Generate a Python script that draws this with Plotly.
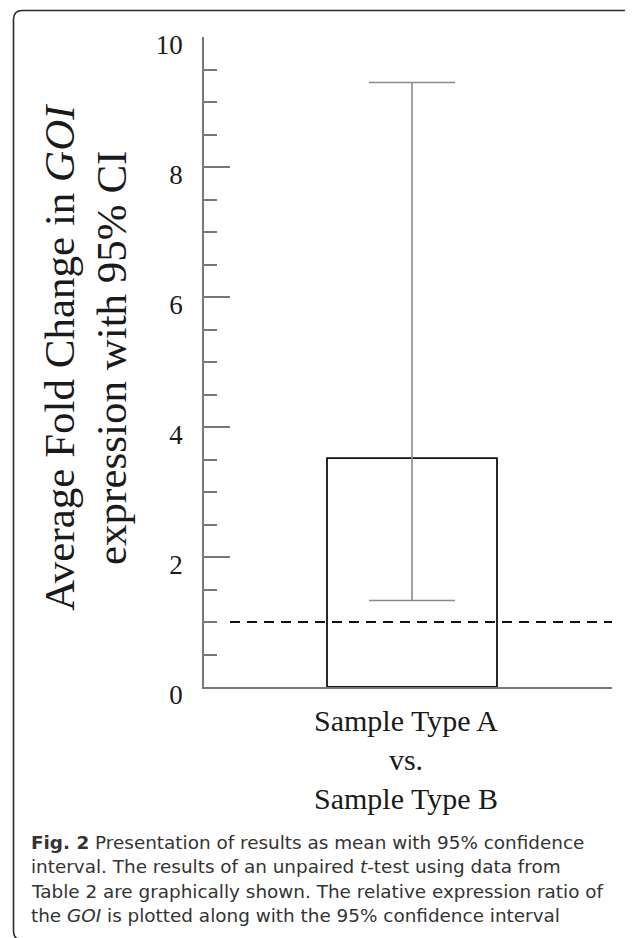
import plotly.graph_objects as go

# ---------------- data ----------------
CATEGORIES = ["Sample Type A<br>vs.<br>Sample Type B"]
MEAN_FOLD = [3.52]
CI_UPPER = [9.30]
CI_LOWER = [1.33]
REF_LINE = 1.0
Y_TICKS = [0, 2, 4, 6, 8, 10]
Y_TICK_LABELS = ["0", "2", "4", "6", "8", "10"]
Y_TITLE_LINES = ["Average Fold Change in <i>GOI</i>", "expression with 95% CI"]
CAPTION_LINES = [
    "<b>Fig. 2</b> Presentation of results as mean with 95% confidence",
    "interval. The results of an unpaired <i>t</i>-test using data from",
    "Table 2 are graphically shown. The relative expression ratio of",
    "the <i>GOI</i> is plotted along with the 95% confidence interval",
]

# ---------------- layout geometry ----------------
# the page body has an 8px margin, so the figure is shifted by OFF px
OFF = 8
W, H = 633 - OFF, 938 - OFF
L, T = 204 - OFF, 37 - OFF
PW, PH = 408, 650
R, B = W - L - PW, H - T - PH


def px2x(px):
    """screen pixel x -> paper x"""
    return (px - OFF - L) / PW


def py2y(py):
    """screen pixel y -> paper y"""
    return (T + PH - (py - OFF)) / PH


SERIF = "Liberation Serif, Times New Roman, serif"
SANS = "DejaVu Sans, Open Sans, sans-serif"
AXIS_GREY = "#777777"

err_plus = [u - m for u, m in zip(CI_UPPER, MEAN_FOLD)]
err_minus = [m - l for m, l in zip(MEAN_FOLD, CI_LOWER)]

fig = go.Figure()
fig.add_trace(go.Bar(
    x=CATEGORIES,
    y=MEAN_FOLD,
    width=1.0,
    marker=dict(color="rgba(255,255,255,0)", line=dict(color="#111111", width=1.8)),
    error_y=dict(type="data", symmetric=False, array=err_plus, arrayminus=err_minus,
                 color="#8a8a8a", thickness=1.6, width=43),
    showlegend=False,
))

fig.add_shape(type="line", xref="paper", x0=px2x(230), x1=1.0, yref="y",
              y0=REF_LINE, y1=REF_LINE,
              line=dict(color="#111111", width=2.2, dash="10px,7px"))

# rounded frame
fl, ft, fr, fb, rr = 13.5, 10.5, 634, 940, 9
path = (
    f"M {px2x(fl)},{py2y(fb - rr)} "
    f"L {px2x(fl)},{py2y(ft + rr)} "
    f"Q {px2x(fl)},{py2y(ft)} {px2x(fl + rr)},{py2y(ft)} "
    f"L {px2x(fr - rr)},{py2y(ft)} "
    f"Q {px2x(fr)},{py2y(ft)} {px2x(fr)},{py2y(ft + rr)} "
    f"L {px2x(fr)},{py2y(fb - rr)} "
    f"Q {px2x(fr)},{py2y(fb)} {px2x(fr - rr)},{py2y(fb)} "
    f"L {px2x(fl + rr)},{py2y(fb)} "
    f"Q {px2x(fl)},{py2y(fb)} {px2x(fl)},{py2y(fb - rr)} Z"
)
fig.add_shape(type="path", xref="paper", yref="paper", path=path,
              line=dict(color="#2a2a2a", width=1.6), fillcolor="rgba(0,0,0,0)")

# y title (two lines)
for txt, cx in zip(Y_TITLE_LINES, [59, 111]):
    fig.add_annotation(text=txt, xref="paper", yref="paper", x=px2x(cx), y=py2y(358),
                       xanchor="center", yanchor="middle", textangle=-90, showarrow=False,
                       font=dict(family=SERIF, size=43, color="#1a1a1a"))

# caption
for txt, by in zip(CAPTION_LINES, [842, 866, 891, 915]):
    fig.add_annotation(text=txt, xref="paper", yref="paper", x=px2x(29), y=py2y(by),
                       xanchor="left", yanchor="middle", showarrow=False, align="left",
                       font=dict(family=SANS, size=18.4, color="#333333"))

fig.update_layout(
    width=W, height=H,
    margin=dict(l=L, r=R, t=T, b=B),
    paper_bgcolor="white", plot_bgcolor="white",
    xaxis=dict(type="category", range=[-1.2235, 1.1765], showline=True, linecolor=AXIS_GREY,
               linewidth=1.5, ticks="", showgrid=False, zeroline=False,
               tickfont=dict(family=SERIF, size=30, color="#1a1a1a"),
               ticklabelstandoff=6, ticklabelshift=-6),
    yaxis=dict(range=[0, 10], tickvals=Y_TICKS, ticktext=Y_TICK_LABELS,
               showline=True, linecolor=AXIS_GREY, linewidth=1.5,
               ticks="inside", ticklen=26, tickwidth=1.5, tickcolor=AXIS_GREY,
               minor=dict(ticks="inside", dtick=0.5, tick0=0, ticklen=13, tickwidth=1.5,
                          tickcolor=AXIS_GREY, showgrid=False),
               showgrid=False, zeroline=False,
               tickfont=dict(family=SERIF, size=27, color="#1a1a1a"),
               ticklabelstandoff=14, ticklabelshift=8),
)

fig.write_html("out.html")
